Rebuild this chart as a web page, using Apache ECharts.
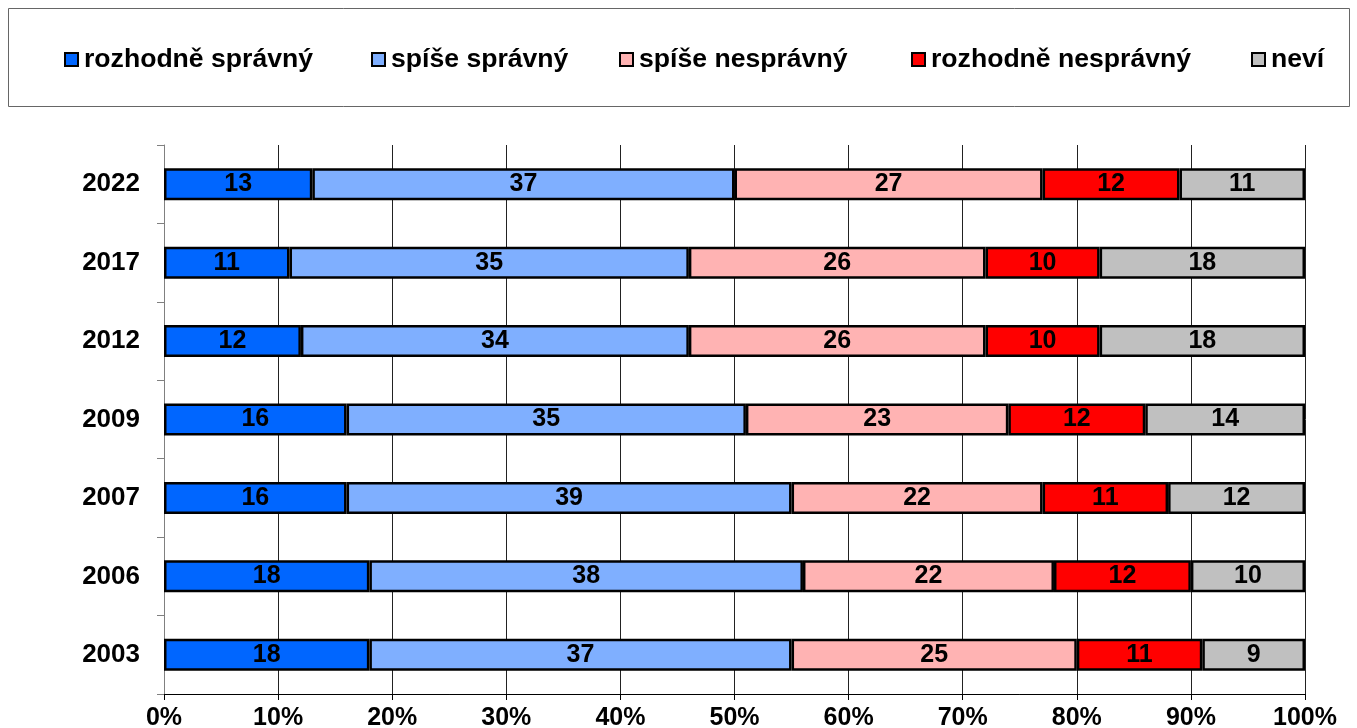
<!DOCTYPE html>
<html><head><meta charset="utf-8">
<script src="https://cdn.jsdelivr.net/npm/echarts@6/dist/echarts.min.js"></script>
<style>html,body{margin:0;padding:0;background:#fff}#c{width:1357px;height:728px}</style>
</head><body><div id="c"></div>
<script>
const years = ['2022','2017','2012','2009','2007','2006','2003'];
const seriesNames = ['rozhodně správný','spíše správný','spíše nesprávný','rozhodně nesprávný','neví'];
const colors = ['#0066FF','#7FAFFF','#FFB3B3','#FF0000','#C0C0C0'];
const rozhodneSpravny = [13,11,12,16,16,18,18];
const spiseSpravny = [37,35,34,35,39,38,37];
const spiseNespravny = [27,26,26,23,22,22,25];
const rozhodneNespravny = [12,10,10,12,11,12,11];
const nevi = [11,18,18,14,12,10,9];
const values = [rozhodneSpravny, spiseSpravny, spiseNespravny, rozhodneNespravny, nevi];
const legendLeft = [64,371,619,911,1251];

const font = 'Liberation Sans, Arial, sans-serif';
const chart = echarts.init(document.getElementById('c'));
chart.setOption({
  animation:false,
  graphic:[{type:'rect',shape:{x:8.5,y:8.5,width:1341,height:98},style:{fill:'none',stroke:'#666',lineWidth:1}}],
  legend:seriesNames.map((n,i)=>({
    top:46, left:legendLeft[i], itemWidth:13, itemHeight:13, itemGap:0,
    icon:'rect', padding:0,
    textStyle:{fontFamily:font,fontWeight:'bold',fontSize:26.6,color:'#000',padding:[0,0,0,1]},
    itemStyle:{borderColor:'#000',borderWidth:2},
    data:[n]
  })),
  grid:{left:164,right:52,top:145,bottom:34,containLabel:false,outerBoundsMode:'none'},
  xAxis:{
    type:'value',min:0,max:100,interval:10,
    axisLine:{show:true,lineStyle:{color:'#000',width:1}},
    axisTick:{show:true,length:6,lineStyle:{color:'#000'}},
    axisLabel:{formatter:v=>v+'%',fontFamily:font,fontWeight:'bold',fontSize:25,color:'#000',margin:12},
    splitLine:{show:true,lineStyle:{color:'#222',width:1}}
  },
  yAxis:{
    type:'category',data:years,inverse:true,
    axisLine:{show:true,lineStyle:{color:'#808080',width:1}},
    axisTick:{show:true,length:7,lineStyle:{color:'#808080'}},
    axisLabel:{fontFamily:font,fontWeight:'bold',fontSize:26,color:'#000',margin:24},
    splitLine:{show:false}
  },
  series:seriesNames.map((n,i)=>({
    name:n,type:'bar',stack:'total',barWidth:32,
    data:values[i],
    itemStyle:{color:colors[i],borderColor:'#000',borderWidth:2.5},
    label:{show:true,position:'inside',fontFamily:font,fontWeight:'bold',fontSize:25,color:'#000'}
  }))
});
</script></body></html>
